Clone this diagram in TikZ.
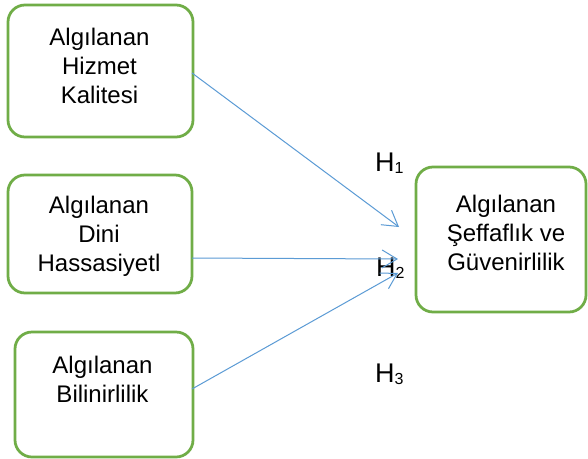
\documentclass[tikz,border=0pt]{standalone}
\usepackage{fontspec}
\setmainfont{Liberation Sans}
\usetikzlibrary{arrows.meta,calc}
\definecolor{boxgreen}{RGB}{112,173,71}
\definecolor{arrowblue}{RGB}{91,155,213}
\newcommand{\hsub}[1]{{\fontsize{16}{18}\selectfont\raisebox{-2pt}{#1}}}
\begin{document}
\begin{tikzpicture}[x=1pt,y=-1pt,
  box/.style={draw=boxgreen, line width=2.75pt, rounded corners=17pt, outer sep=0pt, inner sep=0pt},
  boxtext/.style={anchor=north, inner sep=0pt, align=center, font=\fontsize{24}{29}\selectfont},
  hlabel/.style={anchor=base west, inner sep=0pt, font=\fontsize{27}{30}\selectfont},
  link/.style={draw=arrowblue, line width=1pt, -{Straight Barb[length=15pt,width=18pt,line width=1pt]}}]
\useasboundingbox (0,0) rectangle (588,458);
\fill[white] (0,0) rectangle (588,458);
% boxes
\node[box, minimum width=185pt, minimum height=132pt] (b1) at (100.5,71) {};
\node[box, minimum width=184pt, minimum height=118pt] (b2) at (100,234) {};
\node[box, minimum width=178pt, minimum height=125pt] (b3) at (104,394.5) {};
\node[box, minimum width=170pt, minimum height=145pt] (b4) at (501,239.5) {};
% texts
\node[boxtext] (t1) at (99.5,27.5) {Algılanan\\Hizmet\\Kalitesi};
\node[boxtext] (t2) at (99,195.5) {Algılanan\\Dini\\Hassasiyetl};
\node[boxtext] (t3) at (102.5,355.5) {Algılanan\\Bilinirlilik};
\node[boxtext] (t4) at (506,194.5) {Algılanan\\Şeffaflık ve\\Güvenirlilik};
% hypothesis labels
\node[hlabel] (h1) at (375,171) {H\hsub{1}};
\node[hlabel] (h2) at (376,276) {H\hsub{2}};
\node[hlabel] (h3) at (375,382) {H\hsub{3}};
% connector ends
\coordinate (s1) at ($(b1.east)+(-1,2)$);
\coordinate (s2) at ($(b2.east)+(0,24)$);
\coordinate (s3) at ($(b3.east)+(-1,-5.5)$);
\coordinate (e1) at ($(b4.west)+(-17,-12.5)$);
\coordinate (e2) at ($(b4.west)+(-18,19.5)$);
\coordinate (e3) at ($(b4.west)+(-18,33.5)$);
\draw[link] (s1) -- (e1);
\draw[link] (s2) -- (e2);
\draw[link] (s3) -- (e3);
\end{tikzpicture}
\end{document}
